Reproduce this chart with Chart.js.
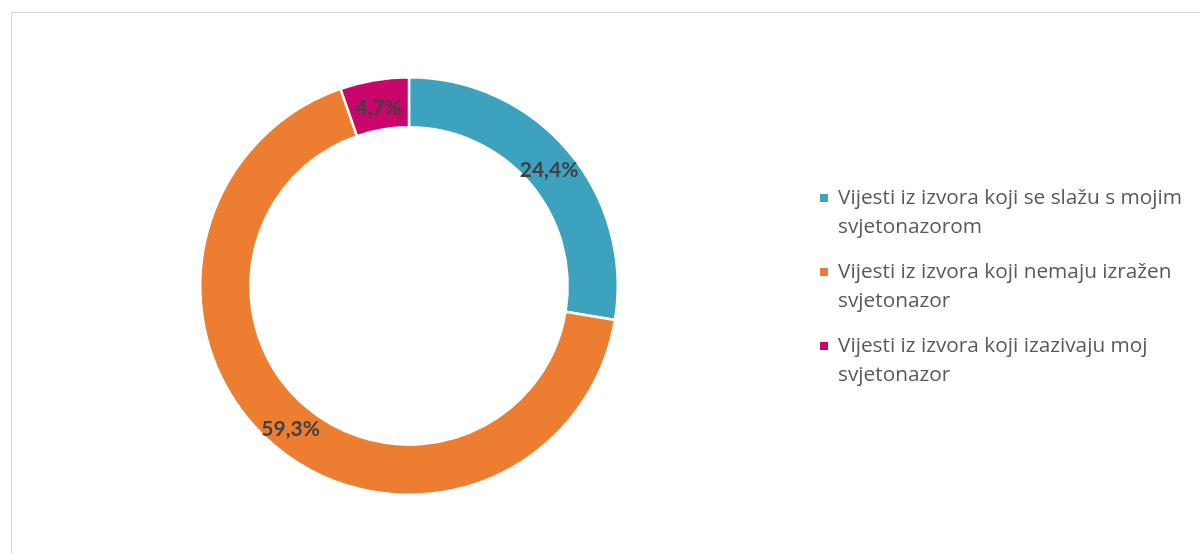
<!DOCTYPE html>
<html>
<head>
<meta charset="utf-8">
<script src="https://cdn.jsdelivr.net/npm/chart.js@4/dist/chart.umd.min.js"></script>
<style>
    body { margin: 0; background: #fff; overflow: hidden; }
    #wrap { position: relative; width: 1200px; height: 553px; }
    #frame { position: absolute; left: 11px; top: 12px; width: 1300px; height: 700px; border: 1px solid #d9d9d9; box-sizing: border-box; }
    canvas { position: absolute; left: 0; top: 0; }
</style>
</head>
<body>
<div id="wrap">
    <div id="frame"></div>
    <canvas id="myChart" width="1200" height="553"></canvas>
</div>
<script>
const categories = [
    "Vijesti iz izvora koji se slažu s mojim svjetonazorom",
    "Vijesti iz izvora koji nemaju izražen svjetonazor",
    "Vijesti iz izvora koji izazivaju moj svjetonazor"
];
const shares = [24.4, 59.3, 4.7];
const shareLabels = ["24,4%", "59,3%", "4,7%"];
const colors = ["#3ca2be", "#ed7d31", "#c9046b"];

// labels in the middle of the ring
const sliceLabels = {
    id: "sliceLabels",
    afterDatasetsDraw(chart) {
        const ctx = chart.ctx;
        const meta = chart.getDatasetMeta(0);
        ctx.save();
        ctx.font = "bold 21px Lato, sans-serif";
        ctx.fillStyle = "#404040";
        ctx.textAlign = "center";
        ctx.textBaseline = "middle";
        meta.data.forEach((arc, i) => {
            const p = arc.tooltipPosition();
            ctx.fillText(shareLabels[i], p.x, p.y + 3);
        });
        ctx.restore();
    }
};

// legend on the right, text wrapped
const sideLegend = {
    id: "sideLegend",
    afterDraw(chart) {
        const ctx = chart.ctx;
        const x0 = 820, textX = 838, maxW = 356;
        const lineH = 29.5, gap = 15;
        let y = 198;
        ctx.save();
        ctx.font = "20.8px 'Open Sans', sans-serif";
        ctx.textBaseline = "middle";
        categories.forEach((label, i) => {
            const words = label.split(" ");
            const lines = [];
            let line = "";
            words.forEach(w => {
                const test = line ? line + " " + w : w;
                if (ctx.measureText(test).width > maxW && line) {
                    lines.push(line);
                    line = w;
                } else {
                    line = test;
                }
            });
            lines.push(line);
            ctx.fillStyle = colors[i];
            ctx.fillRect(x0, y - 4, 8, 8);
            ctx.fillStyle = "#595959";
            lines.forEach((l, k) => ctx.fillText(l, textX, y + k * lineH));
            y += lines.length * lineH + gap;
        });
        ctx.restore();
    }
};

new Chart(document.getElementById("myChart"), {
    type: "doughnut",
    data: {
        labels: categories,
        datasets: [{
            data: shares,
            backgroundColor: colors,
            borderColor: "#ffffff",
            borderWidth: 2.5
        }]
    },
    options: {
        responsive: false,
        animation: false,
        cutout: "76%",
        layout: { padding: { left: 199, right: 581, top: 76, bottom: 57 } },
        plugins: {
            legend: { display: false },
            tooltip: { enabled: false }
        }
    },
    plugins: [sliceLabels, sideLegend]
});
</script>
</body>
</html>
